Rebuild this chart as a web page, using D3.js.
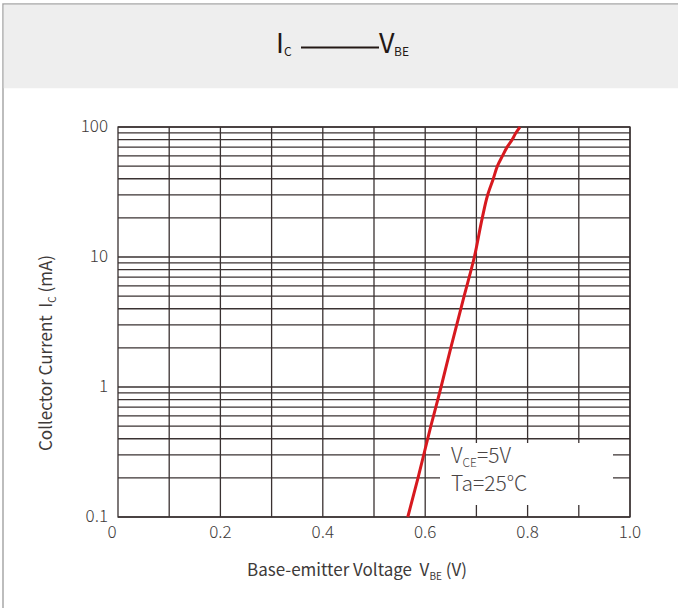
<!DOCTYPE html>
<html>
<head>
<meta charset="utf-8">
<script src="https://cdn.jsdelivr.net/npm/d3@7"></script>
<style>
  body { margin: 0; background: #fff; }
  text { font-family: "Noto Sans CJK SC", "Noto Sans", sans-serif; }
</style>
</head>
<body>
<div id="chart"></div>
<script>
// curve: collector current (mA) vs base-emitter voltage (V)
const currentMA = [0.1, 0.2, 0.5, 1, 2, 5, 10, 20, 30, 40, 50, 60, 70, 80, 90, 100];
const vbe = [0.566, 0.586, 0.611, 0.631, 0.650, 0.676, 0.696, 0.7115, 0.722, 0.733, 0.741, 0.751, 0.760, 0.770, 0.777, 0.785];
const xTicks = [0, 0.2, 0.4, 0.6, 0.8, 1.0];
const xGrid = [0.1, 0.2, 0.3, 0.4, 0.5, 0.6, 0.7, 0.8, 0.9, 1.0];
const yTicks = [0.1, 1, 10, 100];

const W = 678, H = 608;
const MARGIN = {TOP: 127, LEFT: 118, RIGHT: 48, BOTTOM: 91};
const WIDTH = W - MARGIN.LEFT - MARGIN.RIGHT;
const HEIGHT = H - MARGIN.TOP - MARGIN.BOTTOM;
const GAP = "\u00a0\u00a0";

const svg = d3.select("#chart").append("svg")
    .attr("width", W).attr("height", H);

// page frame + grey header band
svg.append("rect").attr("x", 3).attr("y", 4).attr("width", W).attr("height", H)
    .attr("fill", "#fff").attr("stroke", "#a8a8a8").attr("stroke-width", 1.5);
svg.append("rect").attr("x", 3.75).attr("y", 4.75).attr("width", W).attr("height", 83.5)
    .attr("fill", "#eeeeee");

// title  Ic ——— VBE
const title = svg.append("g").attr("fill", "#231815");
title.append("text").attr("x", 276).attr("y", 53).attr("font-size", 27).text("I");
title.append("text").attr("x", 284).attr("y", 56).attr("font-size", 12).text("C");
title.append("line").attr("x1", 301).attr("x2", 379).attr("y1", 47.5).attr("y2", 47.5)
    .attr("stroke", "#231815").attr("stroke-width", 2);
title.append("text").attr("x", 379).attr("y", 53).attr("font-size", 27).text("V");
title.append("text").attr("x", 394).attr("y", 56).attr("font-size", 12).text("BE");

const g = svg.append("g").attr("transform", `translate(${MARGIN.LEFT},${MARGIN.TOP})`);

const x = d3.scaleLinear().domain([0, 1]).range([0, WIDTH]);
const y = d3.scaleLog().domain([0.1, 100]).range([HEIGHT, 0]);

// horizontal grid: 1..9 of each decade
const hLines = [];
[0.1, 1, 10].forEach(d => { for (let k = 1; k <= 10; k++) hLines.push(d * k); });
const uniq = Array.from(new Set(hLines.map(v => +v.toPrecision(3))));

g.append("g").selectAll("line").data(uniq).join("line")
    .attr("x1", 0).attr("x2", WIDTH)
    .attr("y1", d => y(d)).attr("y2", d => y(d))
    .attr("stroke", "#3a3232").attr("stroke-width", 1.3);

g.append("g").selectAll("line").data(xGrid).join("line")
    .attr("x1", d => x(d)).attr("x2", d => x(d))
    .attr("y1", 0).attr("y2", HEIGHT)
    .attr("stroke", "#3a3232").attr("stroke-width", 1.3);

// frame of plot
g.append("rect").attr("width", WIDTH).attr("height", HEIGHT)
    .attr("fill", "none").attr("stroke", "#3a3232").attr("stroke-width", 1.3);

// tick labels
g.append("g").selectAll("text").data(xTicks).join("text")
    .attr("x", d => d === 0 ? x(d) - 6 : x(d))
    .attr("y", HEIGHT + 21)
    .attr("text-anchor", "middle")
    .attr("font-size", 17).attr("font-weight", 300).attr("fill", "#3e3a39")
    .text(d => d === 0 ? "0" : d3.format(".1f")(d));

g.append("g").selectAll("text").data(yTicks).join("text")
    .attr("x", -10)
    .attr("y", d => y(d) + 5)
    .attr("text-anchor", "end")
    .attr("font-size", 17).attr("font-weight", 300).attr("fill", "#3e3a39")
    .text(d => d);

// annotation box
g.append("rect").attr("x", 322).attr("y", 316).attr("width", 173).attr("height", 62)
    .attr("fill", "#fff");
const note = g.append("text").attr("x", 333).attr("y", 336)
    .attr("font-size", 21).attr("font-weight", 300).attr("fill", "#4a4545");
note.append("tspan").text("V");
note.append("tspan").attr("font-size", 12).attr("dy", 4).text("CE");
note.append("tspan").attr("dy", -4).text("=5V");
g.append("text").attr("x", 333).attr("y", 364)
    .attr("font-size", 21).attr("font-weight", 300).attr("fill", "#4a4545")
    .text("Ta=25°C");

// curve
const pts = currentMA.map((c, i) => [vbe[i], c]);
const line = d3.line()
    .x(d => x(d[0])).y(d => y(d[1]))
    .curve(d3.curveMonotoneY);
g.append("path").datum(pts)
    .attr("d", line)
    .attr("fill", "none")
    .attr("stroke", "#d7191f")
    .attr("stroke-width", 3);

// axis titles
const xt = svg.append("text").attr("x", 247).attr("y", 576)
    .attr("font-size", 17).attr("fill", "#3e3a39");
xt.append("tspan").text("Base-emitter Voltage" + GAP + "V");
xt.append("tspan").attr("font-size", 10).attr("dy", 4).text("BE");
xt.append("tspan").attr("dy", -4).text(" (V)");

const yt = svg.append("text")
    .attr("transform", "translate(52,451) rotate(-90)")
    .attr("font-size", 17).attr("fill", "#3e3a39");
yt.append("tspan").text("Collector Current" + GAP + "I");
yt.append("tspan").attr("font-size", 10).attr("dy", 4).text("C");
yt.append("tspan").attr("dy", -4).text(" (mA)");
</script>
</body>
</html>
